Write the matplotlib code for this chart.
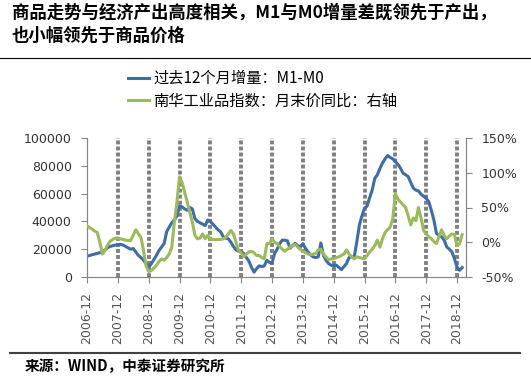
import matplotlib.pyplot as plt
from matplotlib.lines import Line2D

plt.rcParams['font.family'] = ['DejaVu Sans', 'Noto Sans CJK SC']
cjk = ['Noto Sans CJK SC', 'DejaVu Sans']

# 月度数据：2006-12 ~ 2019-02
# 过去12个月增量：M1-M0（左轴）
m1_m0 = [15000,
         15500, 16000, 16500, 17000, 17500, 18000, 19500, 21000, 22000, 22500, 23000, 23000,   # 2007
         23500, 23000, 22000, 21000, 20000, 20500, 18000, 15500, 14000, 12000, 9500, 7000,     # 2008
         9500, 12500, 15500, 19000, 21500, 24000, 32500, 36000, 39000, 41000, 44000, 51000,    # 2009
         50500, 49000, 48000, 50000, 49000, 42000, 40000, 39000, 38000, 37000, 41000, 40000,   # 2010
         38000, 36000, 34000, 32500, 29000, 28000, 27500, 25000, 22000, 19500, 18500, 18000,   # 2011
         17000, 14000, 11500, 7000, 3500, 6000, 8000, 7500, 8000, 12000, 10500, 10000,         # 2012
         17000, 20000, 24000, 26500, 26500, 26000, 20700, 22500, 24300, 22500, 21700, 24000,   # 2013
         20700, 18000, 16000, 14500, 14000, 14500, 24500, 15700, 12000, 9700, 8500, 8000,      # 2014
         8500, 7000, 5300, 7500, 9700, 14000, 14500, 14500, 25300, 37300, 44000, 49400,        # 2015
         51000, 57000, 62600, 71000, 73500, 78000, 82000, 85000, 87400, 86000, 85000, 83100,   # 2016
         81000, 78300, 74700, 73500, 72200, 68000, 63900, 62500, 61900, 59500, 58000, 56600,   # 2017
         54200, 48000, 41000, 31400, 30000, 28900, 26500, 21700, 20000, 18100, 13300, 7200,    # 2018
         4800, 6800]                                                                            # 2019

# 南华工业品指数：月末价同比（右轴，%）
nanhua = [24,
          21, 19, 16, 14, 0, -17, -12, -4, 1.5, 4, 6, 6,            # 2007
          5, 4, 3, 2.5, 2.5, 10, 18, 12, 7, -12, -34, -42,          # 2008
          -41, -37, -33, -28, -24, -26, -22, -17, -7, 29, 58, 94,   # 2009
          86, 72, 58, 43, 29, 10, 5, 6, 12, 5, 10, 4,               # 2010
          4, 4, 4, 4, 5, 7, 12, 17, 12, 0, -12, -15,                # 2011
          -21, -17, -14, -13, -15, -19, -19, -22, -24, -2, -2, 5,   # 2012
          0, -2, -6, -10, -13, -10, -7, -5, -3, -7, -10, -13,       # 2013
          -15, -17, -18, -17, -16, -11, -10, -17, -21, -25, -24, -24,  # 2014
          -22, -21, -19, -17, -11, -17, -21, -24, -21, -22, -23, -24,  # 2015
          -19, -14, -10, -5, 3, -7, 5, 14, 18, 22, 34, 70,          # 2016
          62, 58, 54, 50, 38, 25, 35, 31, 50, 35, 17, 12,           # 2017
          8, 5, 1, -2, 8, 18, 10, 5, 9, 12, 11, -5,                 # 2018
          -2, 11]                                                   # 2019

tick_labels = ['2006-12', '2007-12', '2008-12', '2009-12', '2010-12', '2011-12', '2012-12',
               '2013-12', '2014-12', '2015-12', '2016-12', '2017-12', '2018-12']

blue = '#3D6DA8'
green = '#9BBB59'
grey = '#868686'

fig = plt.figure(figsize=(5.31, 3.86), dpi=100)
ax = fig.add_axes([87 / 531, 1 - 277 / 386, (466 - 87) / 531, (277 - 138) / 386])
x = list(range(len(m1_m0)))
tick_pos = [12 * i for i in range(len(tick_labels))]

# 每年12月的虚线
for p in tick_pos[1:]:
    ax.axvline(p, color='#808080', lw=2.8, ls=(0, (1, 0.55)), zorder=1)

l1, = ax.plot(x, m1_m0, color=blue, lw=2.2, zorder=3, label='过去12个月增量：M1-M0')
ax.set_xlim(0, 147.5)
ax.set_ylim(0, 100000)
ax.set_yticks(range(0, 100001, 20000))
ax.set_xticks(tick_pos)
ax.set_xticklabels(tick_labels, rotation=90)

ax2 = ax.twinx()
l2, = ax2.plot(x, nanhua, color=green, lw=2.2, zorder=3, label='南华工业品指数：月末价同比：右轴')
ax2.set_ylim(-50, 150)
ax2.set_yticks([-50, 0, 50, 100, 150])
ax2.set_yticklabels([f'{v}%' for v in [-50, 0, 50, 100, 150]])

for a in (ax, ax2):
    a.spines['top'].set_visible(False)
    for s in a.spines.values():
        s.set_color(grey)
    a.tick_params(colors=grey, labelcolor='#333333', labelsize=9, length=4, width=0.8)
ax.tick_params(axis='y', pad=7)
ax.tick_params(axis='x', pad=7, labelcolor='#555555')
ax2.tick_params(axis='y', pad=7)

fig.legend(handles=[l1, l2], loc='upper left', bbox_to_anchor=(128 / 531, 1 - 70 / 386),
           frameon=False, prop={'family': cjk, 'size': 11}, handlelength=1.4,
           handletextpad=0.25, labelspacing=0.35, borderpad=0, borderaxespad=0)

fig.text(12 / 531, 1 - 4 / 386, '商品走势与经济产出高度相关，M1与M0增量差既领先于产出，\n也小幅领先于商品价格',
         va='top', ha='left', fontsize=12.5, weight='bold', style='italic',
         family=cjk, linespacing=1.3)
fig.add_artist(Line2D([0, 1], [1 - 58 / 386] * 2, transform=fig.transFigure, color='black', lw=0.8))
fig.add_artist(Line2D([10 / 531, 520 / 531], [1 - 353 / 386] * 2, transform=fig.transFigure,
                      color='#404040', lw=1.5))
fig.text(25 / 531, 1 - 366 / 386, '来源：WIND，中泰证券研究所', va='center', ha='left',
         fontsize=10.5, weight='bold', style='italic', family=cjk)

fig.savefig('out.png', dpi=100)
